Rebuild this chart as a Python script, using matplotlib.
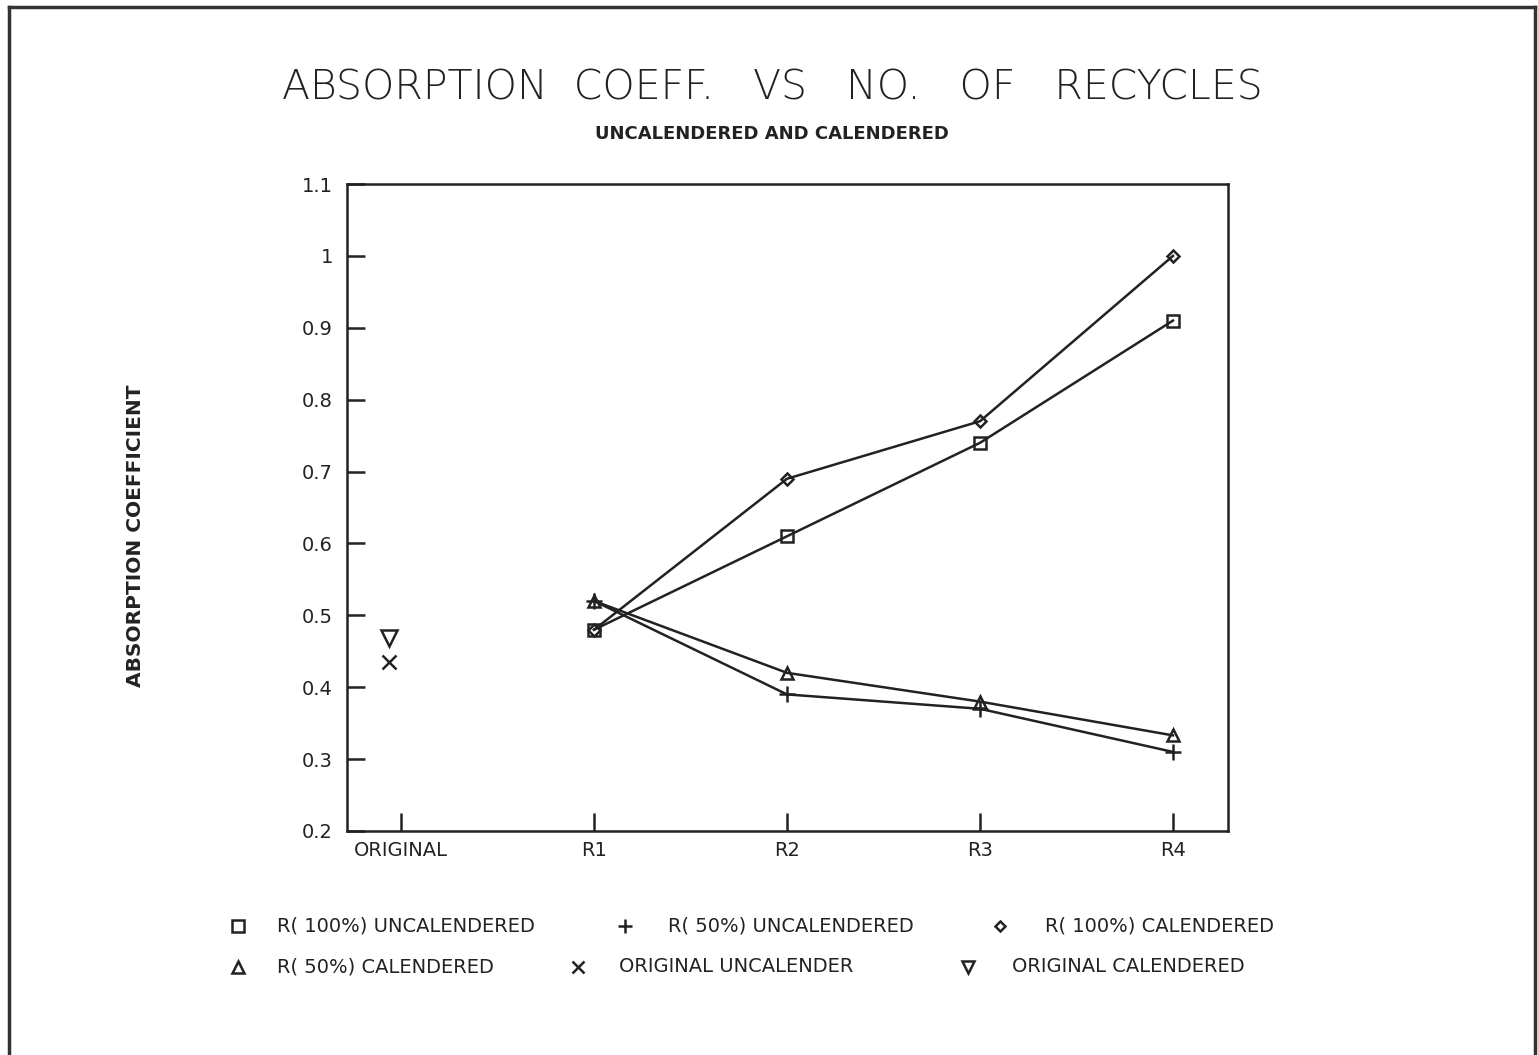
import matplotlib
matplotlib.use('Agg')
import matplotlib.pyplot as plt
from matplotlib.lines import Line2D

plt.rcParams['font.family'] = ['DejaVu Sans']

# categories on the x axis
categories = ['ORIGINAL', 'R1', 'R2', 'R3', 'R4']
recycle_x = [1, 2, 3, 4]

# series values
r100_uncal = [0.48, 0.61, 0.74, 0.91]
r50_uncal = [0.52, 0.39, 0.37, 0.31]
r100_cal = [0.48, 0.69, 0.77, 1.00]
r50_cal = [0.52, 0.42, 0.38, 0.333]
orig_x = [-0.06]
orig_uncal = [0.435]
orig_cal = [0.468]

y_ticks = [0.2, 0.3, 0.4, 0.5, 0.6, 0.7, 0.8, 0.9, 1.0, 1.1]
y_tick_labels = ['0.2', '0.3', '0.4', '0.5', '0.6', '0.7', '0.8', '0.9', '1', '1.1']

W, H = 1538, 1055
fig = plt.figure(figsize=(W / 100, H / 100), dpi=100, facecolor='white')
ax = fig.add_axes([347 / W, 1 - 831 / H, (1228 - 347) / W, (831 - 184) / H])

lc = '#222222'
ms = dict(color=lc, mfc='none', mec=lc, mew=1.8)
ax.plot(recycle_x, r100_uncal, '-', marker='s', ms=9, lw=1.8, **ms)
ax.plot(recycle_x, r100_cal, '-', marker='D', ms=6.5, lw=1.8, **ms)
ax.plot(recycle_x, r50_uncal, '-', marker='+', ms=12, lw=1.8, **ms)
ax.plot(recycle_x, r50_cal, '-', marker='^', ms=9, lw=1.8, **ms)
ax.plot(orig_x, orig_uncal, ls='none', marker='x', ms=10, **ms)
ax.plot(orig_x, orig_cal, ls='none', marker='v', ms=11, **ms)

ax.set_xlim(-0.28, 4.285)
ax.set_ylim(0.2, 1.1)
ax.set_xticks(range(len(categories)))
ax.set_xticklabels(categories, fontsize=14)
ax.set_yticks(y_ticks)
ax.set_yticklabels(y_tick_labels, fontsize=14)
ax.tick_params(direction='in', length=13, width=1.8, color=lc, labelcolor=lc)
ax.tick_params(axis='y', pad=10)
ax.tick_params(axis='x', pad=7)
for s in ax.spines.values():
    s.set_linewidth(1.8)
    s.set_color(lc)

ax.set_ylabel('ABSORPTION COEFFICIENT', fontsize=14.5, fontweight='bold',
              color=lc)
ax.yaxis.set_label_coords(-0.229, 0.456)

fig.text(772 / W, 1 - 88 / H, 'ABSORPTION  COEFF.   VS   NO.   OF   RECYCLES',
         fontsize=29.5, fontweight='light', ha='center', va='center', color=lc)
fig.text(772 / W, 1 - 134 / H, 'UNCALENDERED AND CALENDERED',
         fontsize=13, fontweight='bold', ha='center', va='center', color=lc)

# legend drawn by hand, two rows
legend_items = [
    ('s', 8, 238, 926, 277, 'R( 100%) UNCALENDERED'),
    ('+', 10, 625, 926, 668, 'R( 50%) UNCALENDERED'),
    ('D', 5.5, 1000, 926, 1045, 'R( 100%) CALENDERED'),
    ('^', 8, 238, 967, 277, 'R( 50%) CALENDERED'),
    ('x', 8, 578, 967, 619, 'ORIGINAL UNCALENDER'),
    ('v', 8, 968, 967, 1012, 'ORIGINAL CALENDERED'),
]
for mk, size, mx, my, tx, label in legend_items:
    fig.add_artist(Line2D([mx / W], [1 - my / H], ls='none', marker=mk, ms=size,
                          **ms))
    fig.text(tx / W, 1 - my / H, label, fontsize=14, ha='left', va='center',
             color=lc)

# page border
border = dict(color='#333333', lw=2.5)
fig.add_artist(Line2D([9 / W, 9 / W], [0, 1 - 7 / H], **border))
fig.add_artist(Line2D([9 / W, 1535 / W], [1 - 7 / H, 1 - 7 / H], **border))
fig.add_artist(Line2D([1535 / W, 1535 / W], [0, 1 - 7 / H], **border))

fig.savefig('out.png', dpi=100, facecolor='white')
